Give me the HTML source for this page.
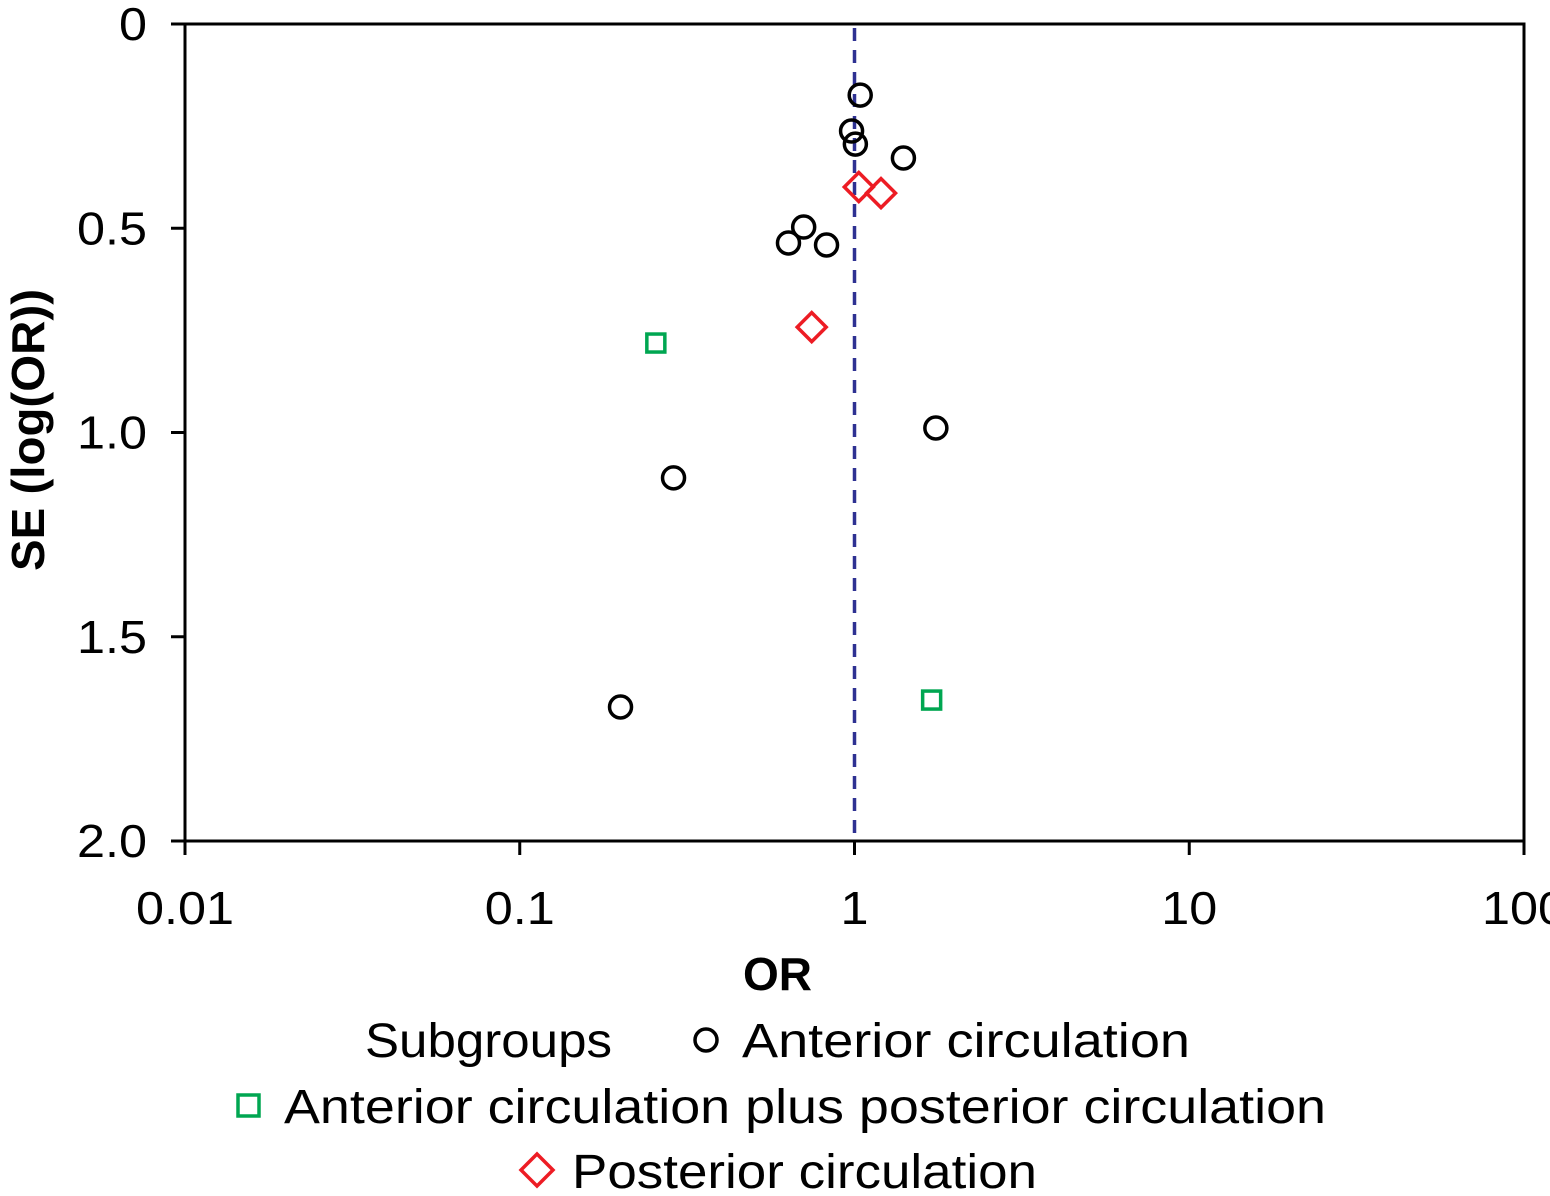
<!DOCTYPE html>
<html><head><meta charset="utf-8"><style>
html,body{margin:0;padding:0;background:#fff;}
svg text{font-family:"Liberation Sans",sans-serif;fill:#000;}
</style></head><body>
<svg id="chart" width="1550" height="1191" viewBox="0 0 1550 1191" xmlns="http://www.w3.org/2000/svg">
</svg>
<script>
const antOR=[1.04,0.98,1.006,1.40,0.705,0.635,0.825,1.75,0.288,0.20];
const antSE=[0.174,0.262,0.294,0.328,0.497,0.536,0.541,0.989,1.111,1.672];
const apOR=[0.255,1.70];
const apSE=[0.781,1.655];
const postOR=[1.03,1.20,0.745];
const postSE=[0.399,0.414,0.742];
const xTicks=[0.01,0.1,1,10,100];
const xTickLabels=["0.01","0.1","1","10","100"];
const yTicks=[0,0.5,1.0,1.5,2.0];
const yTickLabels=["0","0.5","1.0","1.5","2.0"];
const refOR=1;

const L=185,R=1524,T=24,B=841;
const sx=v=>L+(Math.log10(v)+2)/4*(R-L);
const sy=v=>T+v/2*(B-T);
const NS="http://www.w3.org/2000/svg";
const svg=document.getElementById('chart');
function mk(tag,attrs,parent){const e=document.createElementNS(NS,tag);for(const k in attrs)e.setAttribute(k,attrs[k]);(parent||svg).appendChild(e);return e;}
const charW={ ".":0.4 };
function lw(s){let w=0;for(const c of s)w+=(c==='.'?0.36:0.7);return w;}

let frame=mk('rect',{x:L,y:T,width:R-L,height:B-T,fill:'none',stroke:'#000','stroke-width':3});



xTicks.forEach((t,i)=>{
  let tk=mk('line',{x1:sx(t),x2:sx(t),y1:B,y2:B+14,stroke:'#000','stroke-width':3});
  
  
  let tx=mk('text',{x:sx(t),y:924,'text-anchor':'middle','font-size':46,textLength:Math.round(lw(xTickLabels[i])*40),lengthAdjust:'spacingAndGlyphs'});
  tx.textContent=xTickLabels[i];
  
  
});
yTicks.forEach((t,i)=>{
  let tk=mk('line',{x1:L-14,x2:L,y1:sy(t),y2:sy(t),stroke:'#000','stroke-width':3});
  
  
  let tx=mk('text',{x:147,y:sy(t)+16,'text-anchor':'end','font-size':46,textLength:Math.round(lw(yTickLabels[i])*40),lengthAdjust:'spacingAndGlyphs'});
  tx.textContent=yTickLabels[i];
  
  
});

let ref=mk('line',{x1:sx(refOR),x2:sx(refOR),y1:T+4,y2:B,stroke:'#2e3192','stroke-width':3.5,'stroke-dasharray':'13 9'});



antOR.forEach((v,i)=>{
  let c=mk('circle',{cx:sx(v),cy:sy(antSE[i]),r:11,fill:'none',stroke:'#000','stroke-width':3.5});
  
  
});
apOR.forEach((v,i)=>{
  let c=mk('rect',{x:sx(v)-9,y:sy(apSE[i])-9,width:18,height:18,fill:'none',stroke:'#00a651','stroke-width':3.5});
  
  
});
postOR.forEach((v,i)=>{
  const x=sx(v),y=sy(postSE[i]),d=14.5;
  let c=mk('polygon',{points:`${x},${y-d} ${x+d},${y} ${x},${y+d} ${x-d},${y}`,fill:'none',stroke:'#ed1c24','stroke-width':3.5});
  
  
});

let xt=mk('text',{x:743,y:990,'font-size':46,'font-weight':'bold',textLength:69,lengthAdjust:'spacingAndGlyphs'});
xt.textContent='OR';


let yt=mk('text',{x:0,y:0,'text-anchor':'middle','font-size':46,'font-weight':'bold',textLength:282,lengthAdjust:'spacingAndGlyphs',transform:'translate(44,430) rotate(-90)'});
yt.textContent='SE (log(OR))';



let lg=mk('g',{});


let t1=mk('text',{x:365,y:1057,'font-size':48,textLength:247,lengthAdjust:'spacingAndGlyphs'},lg);t1.textContent='Subgroups';


let m1=mk('circle',{cx:706,cy:1040,r:11,fill:'none',stroke:'#000','stroke-width':3.5},lg);


let t2=mk('text',{x:742,y:1057,'font-size':48,textLength:448,lengthAdjust:'spacingAndGlyphs'},lg);t2.textContent='Anterior circulation';


let m2=mk('rect',{x:238,y:1095,width:21,height:21,fill:'none',stroke:'#00a651','stroke-width':3.5},lg);


let t3=mk('text',{x:284,y:1123,'font-size':48,textLength:1042,lengthAdjust:'spacingAndGlyphs'},lg);t3.textContent='Anterior circulation plus posterior circulation';


let m3=mk('polygon',{points:'537,1154 553,1170 537,1186 521,1170',fill:'none',stroke:'#ed1c24','stroke-width':3.5},lg);


let t4=mk('text',{x:572,y:1188,'font-size':48,textLength:465,lengthAdjust:'spacingAndGlyphs'},lg);t4.textContent='Posterior circulation';


</script>
</body></html>
